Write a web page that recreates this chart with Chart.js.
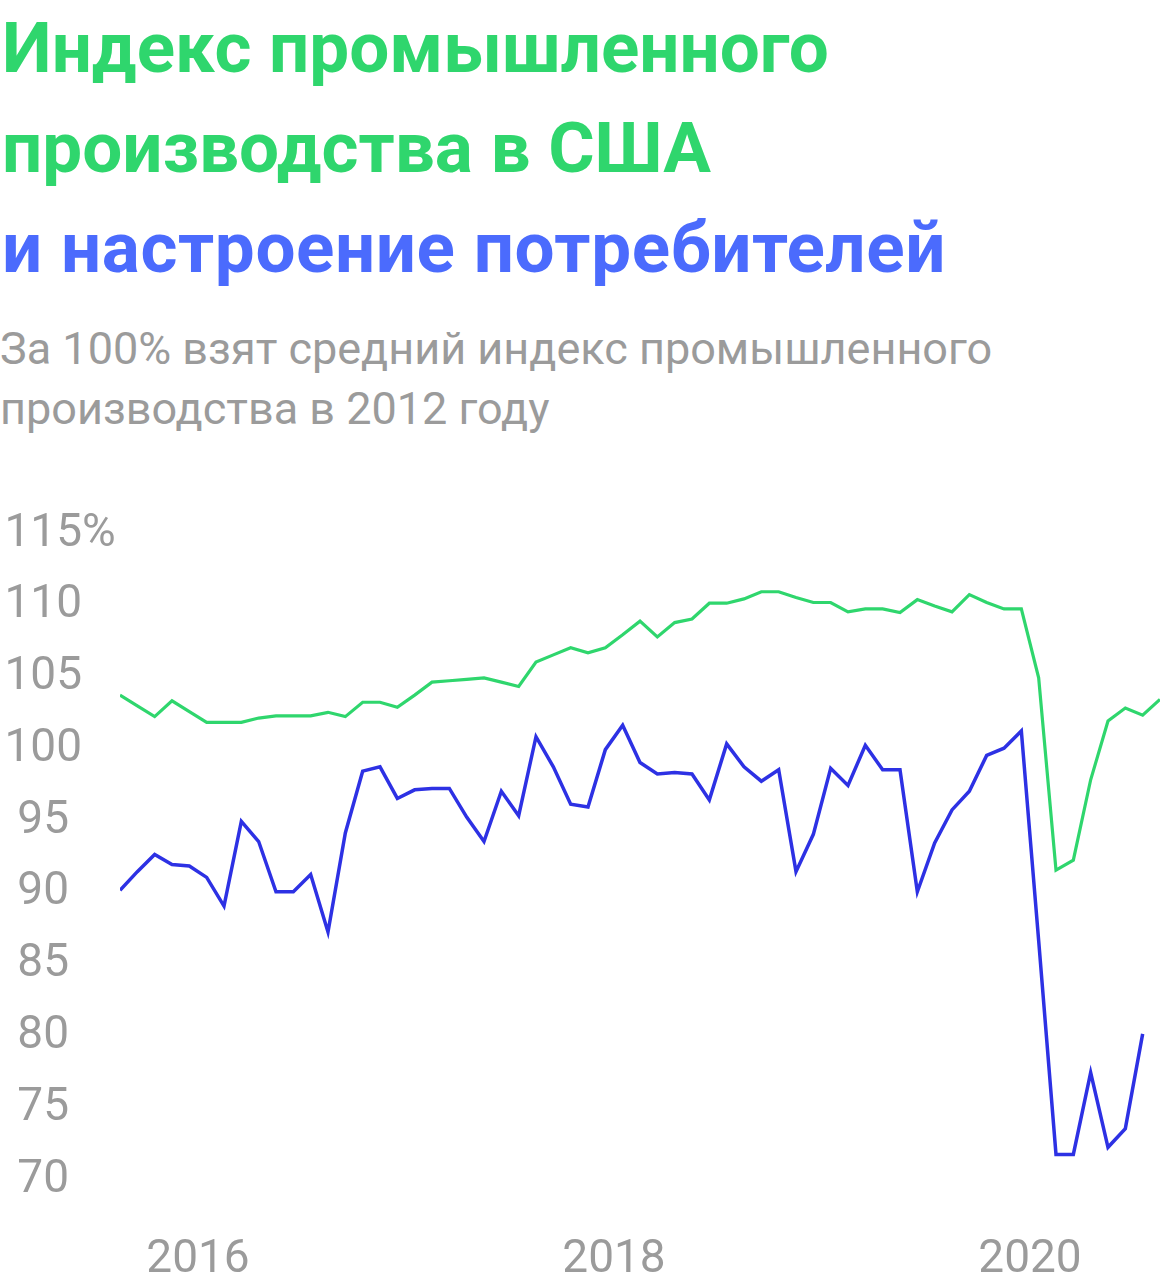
<!DOCTYPE html>
<html lang="ru">
<head>
<meta charset="utf-8">
<title>Индекс промышленного производства в США и настроение потребителей</title>
<script src="https://cdn.jsdelivr.net/npm/chart.js@4.4.1/dist/chart.umd.min.js"></script>
<style>
  html, body { margin: 0; padding: 0; background: #fff; }
  body { width: 1160px; height: 1288px; position: relative; overflow: hidden; font-family: Roboto, 'Noto Sans', sans-serif; }
  .title { position: absolute; left: 2px; top: -2px; font-size: 71px; line-height: 100px; font-weight: 700; white-space: nowrap; }
  .title .g { color: #2fd66d; }
  .title .b { color: #4b6bfd; letter-spacing: 0.6px; }
  .sub { position: absolute; left: 0; top: 319px; font-size: 45px; line-height: 60px; color: #9b9b9b; white-space: nowrap; }
  #chart { position: absolute; left: 0; top: 480px; }
</style>
</head>
<body>
<div class="title"><span class="g">Индекс промышленного<br>производства в США</span><br><span class="b">и настроение потребителей</span></div>
<div class="sub">За 100% взят средний индекс промышленного<br>производства в 2012 году</div>
<canvas id="chart" width="1160" height="808"></canvas>
<script>
// monthly, Oct 2015 – Oct 2020
const months = [
  '2015-10','2015-11','2015-12',
  '2016-01','2016-02','2016-03','2016-04','2016-05','2016-06','2016-07','2016-08','2016-09','2016-10','2016-11','2016-12',
  '2017-01','2017-02','2017-03','2017-04','2017-05','2017-06','2017-07','2017-08','2017-09','2017-10','2017-11','2017-12',
  '2018-01','2018-02','2018-03','2018-04','2018-05','2018-06','2018-07','2018-08','2018-09','2018-10','2018-11','2018-12',
  '2019-01','2019-02','2019-03','2019-04','2019-05','2019-06','2019-07','2019-08','2019-09','2019-10','2019-11','2019-12',
  '2020-01','2020-02','2020-03','2020-04','2020-05','2020-06','2020-07','2020-08','2020-09','2020-10',
];

// industrial production, 2012 = 100
const production = [
  103.5, 102.75, 102.0,
  103.1, 102.35, 101.6, 101.6, 101.6, 101.9, 102.05, 102.05, 102.05, 102.3, 102.0, 103.0,
  103.0, 102.65, 103.5, 104.4, 104.5, 104.6, 104.7, 104.4, 104.1, 105.8, 106.3, 106.8,
  106.45, 106.8, 107.7, 108.65, 107.55, 108.55, 108.8, 109.9, 109.9, 110.2, 110.7, 110.7,
  110.3, 109.95, 109.95, 109.3, 109.5, 109.5, 109.25, 110.15, 109.7, 109.3, 110.5, 109.95,
  109.5, 109.5, 104.7, 91.3, 92.0, 97.6, 101.7, 102.6, 102.1, 103.2,
];

// consumer sentiment (no value yet for Oct 2020)
const sentiment = [
  89.9, 91.2, 92.4,
  91.7, 91.6, 90.8, 88.8, 94.7, 93.3, 89.8, 89.8, 91.0, 87.0, 93.9, 98.2,
  98.5, 96.3, 96.9, 97.0, 97.0, 95.0, 93.3, 96.8, 95.1, 100.6, 98.5, 95.9,
  95.7, 99.7, 101.4, 98.8, 98.0, 98.1, 98.0, 96.2, 100.1, 98.5, 97.5, 98.3,
  91.2, 93.8, 98.4, 97.2, 100.0, 98.3, 98.3, 89.8, 93.2, 95.5, 96.8, 99.3,
  99.8, 101.0, 86.4, 71.5, 71.5, 77.2, 72.0, 73.3, 79.9,
];

const yTicks = [70, 75, 80, 85, 90, 95, 100, 105, 110, 115];
const yearTickPos = [4.5, 28.5, 52.5];
const yearTickLabels = ['2016', '2018', '2020'];

const GREY = '#9b9b9b';
const FONT = 'Roboto';
const TICK_SIZE = 46;
const Y_LABEL_SHIFT = 4;

const toPoints = arr => arr.map((v, i) => ({ x: i, y: v }));

// "%" after the top tick, digits stay centred like the rest of the column
const percentSign = {
  id: 'percentSign',
  afterDraw(chart) {
    const y = chart.scales.y;
    const top = yTicks[yTicks.length - 1];
    const ctx = chart.ctx;
    ctx.save();
    ctx.font = `${TICK_SIZE}px ${FONT}`;
    ctx.fillStyle = GREY;
    ctx.textBaseline = 'middle';
    ctx.textAlign = 'left';
    const w = ctx.measureText(String(top)).width;
    const cx = y.right - y.options.ticks.padding - w / 2;
    ctx.fillText('%', cx + w / 2, y.getPixelForValue(top) + Y_LABEL_SHIFT);
    ctx.restore();
  }
};

new Chart(document.getElementById('chart'), {
  type: 'line',
  data: {
    datasets: [
      { label: 'Промышленное производство', data: toPoints(production), borderColor: '#2fd66d', borderWidth: 3.2 },
      { label: 'Настроение потребителей', data: toPoints(sentiment), borderColor: '#2d31e4', borderWidth: 3.5 },
    ]
  },
  options: {
    responsive: false,
    animation: false,
    layout: { padding: { top: 50, left: 0, right: 0, bottom: 0 } },
    elements: {
      line: { tension: 0, borderJoinStyle: 'miter', borderCapStyle: 'butt', fill: false },
      point: { radius: 0, hoverRadius: 0 },
    },
    plugins: { legend: { display: false }, tooltip: { enabled: false } },
    scales: {
      x: {
        type: 'linear', min: 0, max: months.length - 1,
        grid: { display: false, drawTicks: false }, border: { display: false },
        afterBuildTicks: s => { s.ticks = yearTickPos.map(v => ({ value: v })); },
        afterFit: s => { s.height = 112; s.paddingLeft = 0; s.paddingRight = 0; },
        ticks: {
          padding: 57, autoSkip: false, maxRotation: 0,
          color: GREY, font: { family: FONT, size: TICK_SIZE },
          callback: v => yearTickLabels[yearTickPos.indexOf(v)],
        },
      },
      y: {
        min: 70, max: 115,
        grid: { display: false, drawTicks: false }, border: { display: false },
        afterBuildTicks: s => { s.ticks = yTicks.map(v => ({ value: v })); },
        afterFit: s => { s.width = 120; s.paddingTop = 0; s.paddingBottom = 0; },
        ticks: {
          padding: 38, crossAlign: 'center', labelOffset: Y_LABEL_SHIFT,
          color: GREY, font: { family: FONT, size: TICK_SIZE },
          callback: v => String(v),
        },
      },
    },
  },
  plugins: [percentSign],
});
</script>
</body>
</html>
